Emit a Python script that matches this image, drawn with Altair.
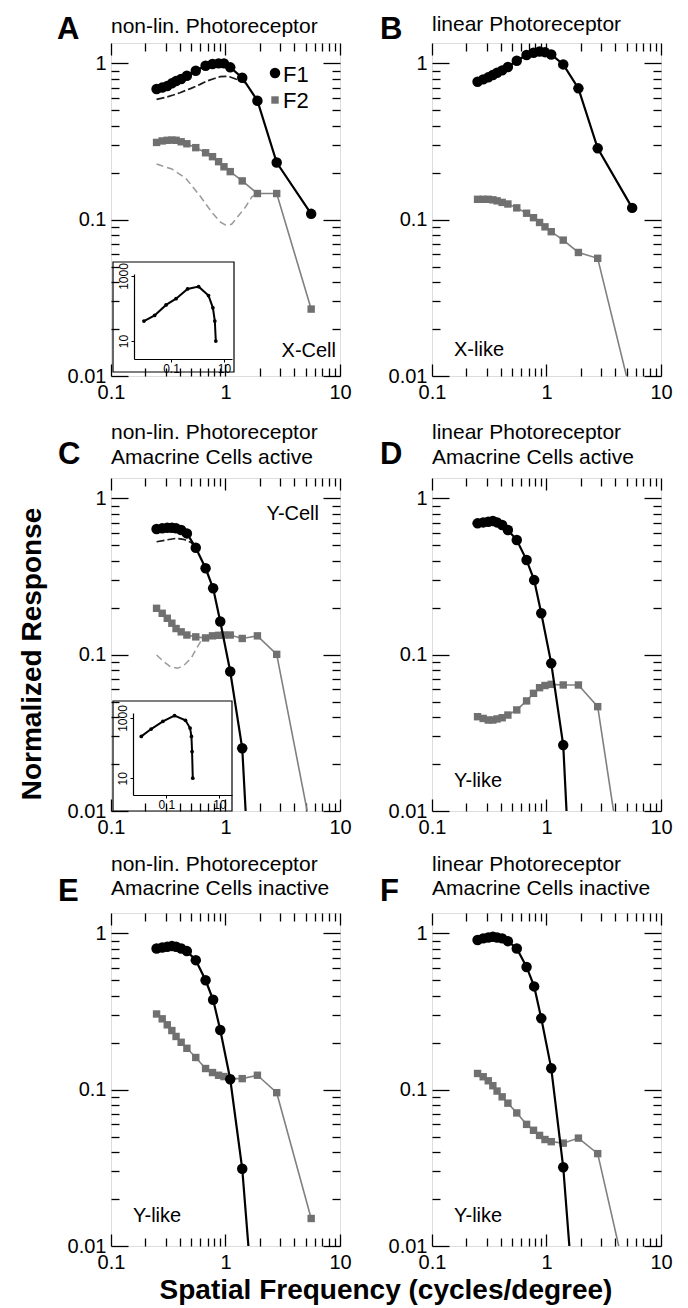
import altair as alt
import pandas as pd

W, H = 229, 333
XDOM = [0.1, 10]
YDOM = [0.01, 1.35]

# spatial-frequency grids (cycles/degree)
G17 = [0.25, 0.28, 0.31, 0.34, 0.37, 0.41, 0.46, 0.55, 0.67, 0.77, 0.87, 0.97, 1.1, 1.4, 1.9, 2.8, 5.6]
G14 = [0.25, 0.28, 0.31, 0.34, 0.37, 0.41, 0.46, 0.55, 0.67, 0.78, 0.9, 1.1, 1.4, 1.9]

# Panel A
A_F1 = [0.685, 0.70, 0.716, 0.745, 0.77, 0.794, 0.834, 0.898, 0.966, 0.99, 1.0, 1.0, 0.943, 0.81, 0.577, 0.232, 0.109]
A_F2 = [0.312, 0.319, 0.322, 0.323, 0.322, 0.315, 0.306, 0.289, 0.268, 0.253, 0.235, 0.218, 0.203, 0.177, 0.147, 0.147, 0.0268]
A_D1_X = [0.25, 0.3, 0.35, 0.4, 0.5, 0.6, 0.7, 0.8, 0.9, 1.0, 1.1, 1.3, 1.5]
A_D1_Y = [0.589, 0.606, 0.627, 0.649, 0.692, 0.734, 0.775, 0.80, 0.822, 0.826, 0.818, 0.782, 0.75]
A_D2_X = [0.25, 0.34, 0.45, 0.59, 0.77, 0.91, 1.0, 1.13, 1.26, 1.5, 1.7, 1.9]
A_D2_Y = [0.227, 0.211, 0.184, 0.144, 0.110, 0.096, 0.0925, 0.0934, 0.103, 0.121, 0.140, 0.147]
A_IN_X = [0.0095, 0.024, 0.065, 0.155, 0.42, 1.1, 2.6, 3.8, 4.5, 4.9]
A_IN_Y = [41, 61, 129, 200, 400, 470, 250, 105, 41, 10]

# Panel B
B_F1 = [0.763, 0.79, 0.814, 0.842, 0.872, 0.902, 0.947, 1.04, 1.13, 1.17, 1.19, 1.18, 1.14, 0.985, 0.692, 0.286, 0.119]
B_F2 = [0.135, 0.135, 0.135, 0.134, 0.132, 0.129, 0.126, 0.119, 0.110, 0.103, 0.096, 0.090, 0.0838, 0.074, 0.0617, 0.0566, 0.0071]

# Panel C
C_F1 = [0.637, 0.643, 0.649, 0.649, 0.643, 0.627, 0.597, 0.483, 0.357, 0.266, 0.163, 0.078, 0.0252, 0.0004]
C_F2 = [0.198, 0.184, 0.171, 0.159, 0.147, 0.140, 0.1336, 0.130, 0.128, 0.132, 0.133, 0.1336, 0.1336, 0.127, 0.132, 0.1005, 0.0074]
C_D1_X = [0.25, 0.3, 0.37, 0.43, 0.5, 0.55]
C_D1_Y = [0.528, 0.541, 0.555, 0.547, 0.523, 0.483]
C_D2_X = [0.25, 0.29, 0.33, 0.38, 0.43, 0.5, 0.57, 0.63]
C_D2_Y = [0.0995, 0.090, 0.0838, 0.0818, 0.085, 0.0948, 0.1125, 0.127]
C_IN_X = [0.0115, 0.027, 0.075, 0.205, 0.53, 0.79, 0.89, 0.94, 1.0]
C_IN_Y = [245, 430, 774, 1196, 836, 464, 245, 77, 10]

# Panel D
D_F1 = [0.692, 0.702, 0.709, 0.716, 0.702, 0.675, 0.627, 0.541, 0.403, 0.30, 0.184, 0.088, 0.0264, 0.0003]
D_F2 = [0.0401, 0.0391, 0.0382, 0.0382, 0.0388, 0.0395, 0.0411, 0.0443, 0.0506, 0.0566, 0.0615, 0.0635, 0.0646, 0.064, 0.064, 0.0465, 0.00165]

# Panel E
E_F1 = [0.80, 0.813, 0.821, 0.829, 0.821, 0.80, 0.77, 0.674, 0.501, 0.376, 0.241, 0.1166, 0.0312, 0.0019]
E_F2 = [0.305, 0.284, 0.260, 0.239, 0.219, 0.201, 0.184, 0.1607, 0.1366, 0.1287, 0.1237, 0.1213, 0.1177, 0.1177, 0.1237, 0.0957, 0.015]

# Panel F
F_F1 = [0.906, 0.929, 0.942, 0.952, 0.942, 0.929, 0.892, 0.80, 0.61, 0.458, 0.286, 0.137, 0.0319, 0.0018]
F_F2 = [0.127, 0.121, 0.114, 0.106, 0.098, 0.090, 0.082, 0.071, 0.060, 0.055, 0.051, 0.048, 0.0465, 0.0455, 0.049, 0.039, 0.0042]

LETTERS = ["A", "B", "C", "D", "E", "F"]
SUBTITLES = [
    ["non-lin. Photoreceptor"],
    ["linear Photoreceptor"],
    ["non-lin. Photoreceptor", "Amacrine Cells active"],
    ["linear Photoreceptor", "Amacrine Cells active"],
    ["non-lin. Photoreceptor", "Amacrine Cells inactive"],
    ["linear Photoreceptor", "Amacrine Cells inactive"],
]
NOTES = ["X-Cell", "X-like", "Y-Cell", "Y-like", "Y-like", "Y-like"]
LEGEND = ["F1", "F2"]
Y_TITLE = "Normalized Response"
X_TITLE = "Spatial Frequency (cycles/degree)"

YMAJ = [0.01, 0.1, 1]
YMIN = [0.02, 0.03, 0.04, 0.05, 0.06, 0.07, 0.08, 0.09, 0.2, 0.3, 0.4, 0.5, 0.6, 0.7, 0.8, 0.9]
XMAJ = [0.1, 1, 10]
XMIN = [0.2, 0.3, 0.4, 0.5, 0.6, 0.7, 0.8, 0.9, 2, 3, 4, 5, 6, 7, 8, 9]
IN_XTICKS = [0.1, 10]
IN_YTICKS = [10, 1000]

FONT = "Liberation Sans"
GRAY = "#707070"

XS = alt.Scale(type="log", domain=XDOM, nice=False)
YS = alt.Scale(type="log", domain=YDOM, nice=False)
XAX = alt.Axis(values=XMAJ, format="~g", ticks=False, domain=False, grid=False, title=None,
               labelFontSize=20, labelPadding=6, labelFlush=False, labelOverlap=False,
               labelColor="black", labelFont=FONT)
YAX = alt.Axis(values=YMAJ, format="~g", ticks=False, domain=False, grid=False, title=None,
               labelFontSize=20, labelPadding=5, labelFlush=False, labelOverlap=False,
               labelColor="black", labelFont=FONT)

ANCHOR = pd.DataFrame({"x": [1.0], "y": [0.1]})


def enc_xy(chart, xf="x", yf="y"):
    return chart.encode(x=alt.X(f"{xf}:Q", scale=XS, axis=XAX),
                        y=alt.Y(f"{yf}:Q", scale=YS, axis=YAX))


def tick_axes():
    """Inward frame ticks: extra tick-only axes pushed onto the opposite border."""
    out = []
    for xv, xl, yv, yl in [(XMAJ, 12, YMAJ, 17), (XMIN, 8, YMIN, 8)]:
        for xo, yo in [("top", "right"), ("bottom", "left")]:
            axx = alt.Axis(orient=xo, offset=-H, values=xv, tickSize=xl, tickWidth=1.3,
                           tickColor="black", labels=False, domain=False, grid=False, title=None)
            axy = alt.Axis(orient=yo, offset=-W, values=yv, tickSize=yl, tickWidth=1.3,
                           tickColor="black", labels=False, domain=False, grid=False, title=None)
            out.append(alt.Chart(ANCHOR).mark_point(opacity=0).encode(
                x=alt.X("x:Q", scale=XS, axis=axx),
                y=alt.Y("y:Q", scale=YS, axis=axy)))
    return out


def text(t, x, y, size=20, weight="normal", align="left", angle=0):
    return alt.Chart(pd.DataFrame({"t": [t]})).mark_text(
        align=align, baseline="alphabetic", fontSize=size, fontWeight=weight,
        angle=angle, color="black", font=FONT).encode(
        text="t:N", x=alt.value(x), y=alt.value(y))


def series(xs, ys, kind):
    d = pd.DataFrame({"x": xs, "y": ys})
    if kind == "F1":
        line = alt.Chart(d).mark_line(color="black", strokeWidth=2.2, clip=True)
        pts = alt.Chart(d).mark_circle(color="black", size=110, opacity=1, clip=True)
        return [enc_xy(line), enc_xy(pts)]
    if kind == "F2":
        line = alt.Chart(d).mark_line(color="#808080", strokeWidth=1.6, clip=True)
        pts = alt.Chart(d).mark_square(color=GRAY, size=55, opacity=1, clip=True)
        return [enc_xy(line), enc_xy(pts)]
    if kind == "D1":
        return [enc_xy(alt.Chart(d).mark_line(color="#1a1a1a", strokeWidth=1.7, strokeDash=[8, 3], clip=True))]
    return [enc_xy(alt.Chart(d).mark_line(color="#9a9a9a", strokeWidth=1.5, strokeDash=[7, 4], clip=True))]


def inset(xs, ys, box, xdom, xrange, ydom, yrange, xoff, yoff):
    XI = alt.Scale(type="log", domain=xdom, range=xrange, nice=False)
    YI = alt.Scale(type="log", domain=ydom, range=yrange, nice=False)
    XIA = alt.Axis(values=IN_XTICKS, format="~g", orient="bottom", offset=xoff, tickSize=3,
                   labelFontSize=12, labelPadding=1, grid=False, title=None, domainColor="black",
                   tickColor="black", labelColor="black", labelFlush=False, labelFont=FONT,
                   domainWidth=1.2, labelOverlap=False)
    YIA = alt.Axis(values=IN_YTICKS, format="~g", orient="left", offset=yoff, tickSize=3,
                   labelFontSize=12, labelPadding=1, grid=False, title=None, domainColor="black",
                   tickColor="black", labelColor="black", labelAngle=270, labelAlign="center",
                   labelBaseline="bottom", labelFlush=False, labelFont=FONT, domainWidth=1.2,
                   labelOverlap=False)
    d = pd.DataFrame({"ix": xs, "iy": ys})
    enc = dict(x=alt.X("ix:Q", scale=XI, axis=XIA), y=alt.Y("iy:Q", scale=YI, axis=YIA))
    line = alt.Chart(d).mark_line(color="black", strokeWidth=2).encode(**enc)
    pts = alt.Chart(d).mark_circle(color="black", size=14, opacity=1).encode(**enc)
    rect = alt.Chart(pd.DataFrame({"a": [0]})).mark_rect(
        fill="white", fillOpacity=0, stroke="black", strokeWidth=1.2).encode(
        x=alt.value(box[0]), x2=alt.value(box[2]), y=alt.value(box[1]), y2=alt.value(box[3]))
    return rect, alt.layer(line, pts)


def panel(i, f1x, f1, f2, dashes=(), ins=None, extra=()):
    layers = []
    for xs, ys, k in dashes:
        layers += series(xs, ys, k)
    layers += series(G17, f2, "F2")
    layers += series(f1x, f1, "F1")
    sub = SUBTITLES[i]
    base = [-10] if i == 0 else [-12] if i == 1 else [-39, -14] if i < 4 else [-42, -18]
    for t, b in zip(sub, base):
        layers.append(text(t, 0, b, size=21))
    lx = [-54, -52, -53, -52, -53, -52][i]
    ly = [-4, -4, -14, -14, -12, -12][i]
    layers.append(text(LETTERS[i], lx, ly, size=31, weight="bold"))
    if i == 0:
        layers.append(text(NOTES[i], 225, 314, align="right"))
    elif i == 2:
        layers.append(text(NOTES[i], 208, 42, align="right"))
    elif i == 1:
        layers.append(text(NOTES[i], 22, 313))
    else:
        layers.append(text(NOTES[i], 22, 309))
    layers += list(extra)
    parts = []
    if ins is not None:
        rect, inl = ins
        layers.append(rect)
        parts.append(inl)
    main = alt.layer(*layers)
    return alt.layer(main, *tick_axes(), *parts).resolve_scale(
        x="independent", y="independent").properties(width=W, height=H)


legend = [
    alt.Chart(pd.DataFrame({"a": [0]})).mark_circle(color="black", size=110, opacity=1).encode(
        x=alt.value(164), y=alt.value(30)),
    alt.Chart(pd.DataFrame({"a": [0]})).mark_square(color=GRAY, size=55, opacity=1).encode(
        x=alt.value(164), y=alt.value(57)),
    text(LEGEND[0], 172, 39, size=22),
    text(LEGEND[1], 172, 65, size=22),
]

pA = panel(0, G17, A_F1, A_F2,
           dashes=[(A_D1_X, A_D1_Y, "D1"), (A_D2_X, A_D2_Y, "D2")],
           ins=inset(A_IN_X, A_IN_Y, (2, 219, 123, 329), [0.004, 20], [23, 121],
                     [2.8, 1150], [316, 231], -(H - 316), -23),
           extra=legend)
pB = panel(1, G17, B_F1, B_F2)
pC = panel(2, G14, C_F1, C_F2,
           dashes=[(C_D1_X, C_D1_Y, "D1"), (C_D2_X, C_D2_Y, "D2")],
           ins=inset(C_IN_X, C_IN_Y, (2, 223, 121, 333), [0.0056, 30], [22, 121],
                     [2.77, 1468], [317, 235], -(H - 317), -22),
           extra=[text(Y_TITLE, -70, 176, size=28, weight="bold", align="center", angle=270)])
pD = panel(3, G14, D_F1, D_F2)
pE = panel(4, G14, E_F1, E_F2,
           extra=[text(X_TITLE, 275, 386, size=28, weight="bold", align="center")])
pF = panel(5, G14, F_F1, F_F2)

chart = alt.concat(pA, pB, pC, pD, pE, pF, columns=2,
                   spacing={"row": 102, "column": 92}).properties(
    bounds="flush",
    padding={"left": 10, "top": 5, "right": 5, "bottom": 5},
).configure_view(stroke="black", strokeWidth=1.5).configure(font=FONT)

chart.save("out.html", embed_options={"renderer": "svg", "actions": False})
